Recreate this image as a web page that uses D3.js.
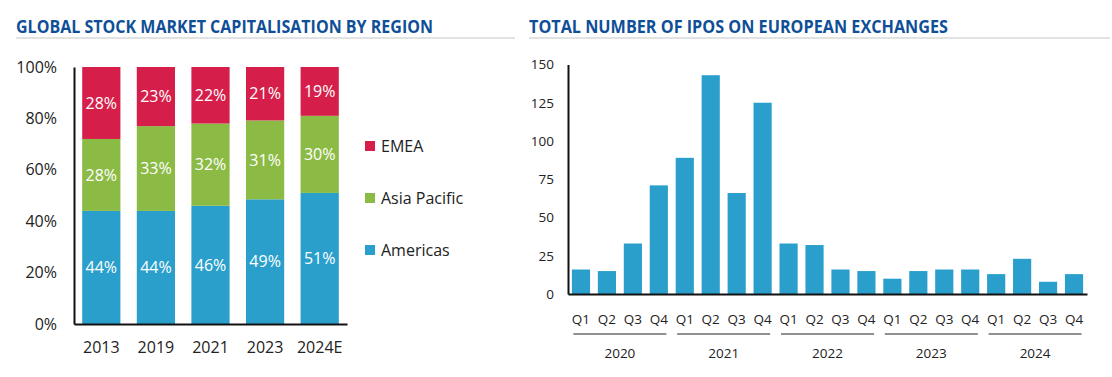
<!DOCTYPE html>
<html lang="en">
<head>
<meta charset="utf-8">
<script src="https://d3js.org/d3.v7.min.js"></script>
<style>
  body { margin: 0; background: #fff; font-family: "Open Sans", sans-serif; }
  svg text { font-family: "Open Sans", sans-serif; }
</style>
</head>
<body>
<svg id="chart" width="1112" height="377"></svg>
<script>
// left chart data
const capYears = ["2013", "2019", "2021", "2023", "2024E"];
const americas = [44, 44, 46, 49, 51];
const asiaPacific = [28, 33, 32, 31, 30];
const emea = [28, 23, 22, 21, 19];
const regions = ["Americas", "Asia Pacific", "EMEA"];
const legendOrder = ["EMEA", "Asia Pacific", "Americas"];

// right chart data
const ipoYears = ["2020", "2021", "2022", "2023", "2024"];
const quarters = ["Q1", "Q2", "Q3", "Q4"];
const ipoCounts = [16, 15, 33, 71, 89, 143, 66, 125, 33, 32, 16, 15, 10, 15, 16, 16, 13, 23, 8, 13];
const ipoTicks = [0, 25, 50, 75, 100, 125, 150];

const titleColor = "#0f4f97";
const textColor = "#222";
const colors = { "Americas": "#2a9fcc", "Asia Pacific": "#8cbb45", "EMEA": "#d51f4a" };

const svg = d3.select("#chart");

// titles with grey underline
function title(x, text, len, lineEnd) {
  svg.append("text")
    .attr("x", x).attr("y", 33)
    .attr("font-size", 17).attr("font-weight", 700)
    .attr("fill", titleColor)
    .attr("textLength", len).attr("lengthAdjust", "spacingAndGlyphs")
    .text(text);
  svg.append("line")
    .attr("x1", x).attr("x2", lineEnd)
    .attr("y1", 38).attr("y2", 38)
    .attr("stroke", "#d9d9d9").attr("stroke-width", 1.5);
}
title(16, "GLOBAL STOCK MARKET CAPITALISATION BY REGION", 417, 515);
title(529, "TOTAL NUMBER OF IPOS ON EUROPEAN EXCHANGES", 419, 1110);

// ---------- left: stacked 100% bars ----------
const rows = capYears.map((y, i) => ({
  year: y, "Americas": americas[i], "Asia Pacific": asiaPacific[i], "EMEA": emea[i]
}));

const stack = d3.stack().keys(regions).offset(d3.stackOffsetExpand);
const series = stack(rows);

const x1 = d3.scaleBand().domain(capYears).range([74, 347])
  .paddingInner(0.3).paddingOuter(0.15);
const y1 = d3.scaleLinear().domain([0, 1]).range([324, 67]);

const left = svg.append("g");

left.selectAll("g.layer")
  .data(series)
  .join("g")
  .attr("class", "layer")
  .attr("fill", d => colors[d.key])
  .selectAll("rect")
  .data(d => d)
  .join("rect")
  .attr("x", d => x1(d.data.year))
  .attr("width", x1.bandwidth())
  .attr("y", d => y1(d[1]))
  .attr("height", d => y1(d[0]) - y1(d[1]));

// value labels
series.forEach(s => {
  left.selectAll(null)
    .data(s)
    .join("text")
    .attr("x", d => x1(d.data.year) + x1.bandwidth() / 2)
    .attr("y", d => (y1(d[0]) + y1(d[1])) / 2)
    .attr("dy", "0.36em")
    .attr("text-anchor", "middle")
    .attr("font-size", 16)
    .attr("fill", "#fff")
    .text(d => d.data[s.key] + "%");
});

const yAxis1 = left.append("g")
  .attr("transform", "translate(74,0)")
  .call(d3.axisLeft(y1).tickValues([0, 0.2, 0.4, 0.6, 0.8, 1])
    .tickFormat(d3.format(".0%")).tickSize(0).tickPadding(17));
const xAxis1 = left.append("g")
  .attr("transform", "translate(0,324)")
  .call(d3.axisBottom(x1).tickSize(0).tickPadding(18));

[yAxis1, xAxis1].forEach(a => {
  a.select(".domain").attr("stroke", "#111").attr("stroke-width", 2);
  a.selectAll("text").attr("font-size", 16).attr("fill", textColor)
    .style("font-family", "Open Sans");
});

// legend
const legend = left.selectAll("g.legend")
  .data(legendOrder)
  .join("g")
  .attr("class", "legend")
  .attr("transform", (d, i) => `translate(365,${146 + i * 52})`);
legend.append("rect")
  .attr("y", -5).attr("width", 10).attr("height", 10)
  .attr("fill", d => colors[d]);
legend.append("text")
  .attr("x", 16).attr("dy", "0.36em")
  .attr("font-size", 16).attr("fill", textColor)
  .text(d => d);

// ---------- right: IPO bars ----------
const keys = ipoCounts.map((d, i) => ipoYears[Math.floor(i / 4)] + " " + quarters[i % 4]);
const x2 = d3.scaleBand().domain(keys).range([568, 1087])
  .paddingInner(0.3).paddingOuter(0.15);
const y2 = d3.scaleLinear().domain([0, 150]).range([294, 64.5]);

const right = svg.append("g");

right.selectAll("rect")
  .data(ipoCounts)
  .join("rect")
  .attr("x", (d, i) => x2(keys[i]))
  .attr("width", x2.bandwidth())
  .attr("y", d => y2(d))
  .attr("height", d => y2(0) - y2(d))
  .attr("fill", colors["Americas"]);

const yAxis2 = right.append("g")
  .attr("transform", "translate(568,0)")
  .call(d3.axisLeft(y2).tickValues(ipoTicks).tickSize(0).tickPadding(14));
const xAxis2 = right.append("g")
  .attr("transform", "translate(0,294)")
  .call(d3.axisBottom(x2).tickSize(0).tickPadding(20)
    .tickFormat(k => k.split(" ")[1]));

[yAxis2, xAxis2].forEach(a => {
  a.select(".domain").attr("stroke", "#111").attr("stroke-width", 2);
  a.selectAll("text").attr("font-size", 13.5).attr("fill", textColor)
    .style("font-family", "Open Sans");
});

// year groups under the quarters
const groups = right.selectAll("g.year")
  .data(ipoYears)
  .join("g")
  .attr("class", "year");
const groupCenter = y => {
  const a = x2(y + " Q1"), b = x2(y + " Q4") + x2.bandwidth();
  return (a + b) / 2;
};
groups.append("line")
  .attr("x1", d => groupCenter(d) - 46.5)
  .attr("x2", d => groupCenter(d) + 46.5)
  .attr("y1", 334).attr("y2", 334)
  .attr("stroke", "#222").attr("stroke-width", 1);
groups.append("text")
  .attr("x", d => groupCenter(d))
  .attr("y", 358)
  .attr("text-anchor", "middle")
  .attr("font-size", 13.5).attr("fill", textColor)
  .text(d => d);
</script>
</body>
</html>
